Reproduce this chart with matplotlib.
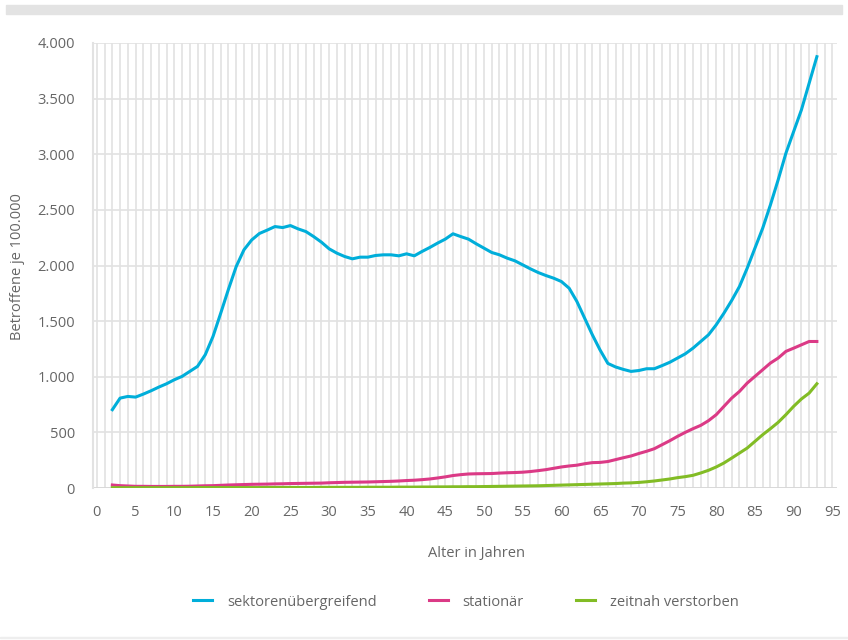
import matplotlib
matplotlib.use('Agg')
import matplotlib.pyplot as plt
from matplotlib.patches import Rectangle

# Alter 2..93
ages = list(range(2, 94))

sektor = [704, 808, 823, 817, 844, 874, 907, 937, 973, 1003, 1048, 1093, 1198, 1362, 1572, 1787,
          1991, 2141, 2230, 2288, 2318, 2350, 2341, 2359, 2329, 2305, 2260, 2210, 2150, 2111, 2081,
          2060, 2075, 2075, 2090, 2096, 2096, 2087, 2105, 2087, 2126, 2162, 2201, 2237, 2285, 2260,
          2237, 2195, 2156, 2117, 2096, 2066, 2042, 2006, 1970, 1937, 1910, 1886, 1856, 1796, 1677,
          1527, 1377, 1240, 1120, 1088, 1066, 1048, 1056, 1072, 1072, 1100, 1130, 1168, 1206, 1257,
          1317, 1377, 1467, 1572, 1686, 1811, 1976, 2156, 2335, 2545, 2770, 3009, 3204, 3398, 3638,
          3877]

stationaer = [27, 21, 18, 15, 15, 14, 14, 14, 15, 15, 16, 18, 20, 21, 24, 27, 29, 31, 33, 34, 35,
              37, 38, 40, 41, 42, 43, 44, 47, 49, 51, 52, 53, 54, 56, 58, 60, 63, 67, 70, 75, 81,
              90, 100, 112, 120, 126, 128, 129, 130, 134, 137, 139, 142, 148, 156, 165, 177, 189,
              198, 205, 218, 228, 230, 238, 255, 272, 288, 310, 330, 353, 389, 425, 464, 500, 533,
              563, 605, 659, 734, 808, 868, 943, 1003, 1063, 1123, 1168, 1228, 1257, 1287, 1317,
              1317]

verstorben = [3, 3, 3, 3, 3, 3, 3, 3, 3, 3, 3, 4, 4, 4, 4, 4, 4, 4, 4, 4, 5, 5, 5, 5, 5, 5, 5,
              6, 6, 6, 6, 6, 6, 7, 7, 7, 7, 8, 8, 8, 9, 9, 10, 10, 11, 11, 12, 12, 13, 14, 15, 16,
              17, 18, 19, 20, 22, 24, 26, 28, 30, 32, 34, 36, 38, 40, 44, 46, 50, 56, 63, 72, 81,
              93, 102, 114, 135, 159, 189, 225, 269, 314, 359, 419, 479, 533, 590, 659, 734, 800,
              853, 937]

series_names = ['sektorenübergreifend', 'stationär', 'zeitnah verstorben']
colors = ['#00AEDA', '#DB3A86', '#82BC25']

y_ticks = [0, 500, 1000, 1500, 2000, 2500, 3000, 3500, 4000]
y_labels = ['0', '500', '1.000', '1.500', '2.000', '2.500', '3.000', '3.500', '4.000']
x_ticks = list(range(0, 96, 5))

plt.rcParams['font.family'] = ['Open Sans', 'DejaVu Sans']
txt = '#666666'
grid = '#E2E2E2'

fig = plt.figure(figsize=(8.48, 6.4), dpi=100)
ax = fig.add_axes([93 / 848, 1 - 488 / 640, (837 - 93) / 848, 445 / 640])

# grid lines
for a in range(0, 96):
    ax.axvline(a, color=grid, lw=1.2, zorder=0)
for v in y_ticks:
    ax.axhline(v, color=grid, lw=1.2, zorder=0)
ax.axhline(0, color='#D6D6D6', lw=1.8, zorder=1)

for vals, name, c in zip([sektor, stationaer, verstorben], series_names, colors):
    ax.plot(ages, vals, color=c, lw=2.2, label=name, zorder=3, solid_joinstyle='round')

ax.set_xlim(-0.5, 95.6)
ax.set_ylim(0, 4000)
ax.set_xticks(x_ticks)
ax.set_yticks(y_ticks)
ax.set_yticklabels(y_labels)
ax.tick_params(length=0, labelsize=10.5, colors=txt)
ax.tick_params(axis='x', pad=12)
ax.tick_params(axis='y', pad=13)
for s in ['top', 'right', 'bottom']:
    ax.spines[s].set_visible(False)
ax.spines['left'].set_color(grid)
ax.spines['left'].set_linewidth(1.5)

fig.text(18 / 848, 1 - 267 / 640, 'Betroffene je 100.000', rotation=90, ha='center', va='center',
         fontsize=10.5, color=txt)
fig.text(476 / 848, 1 - 553 / 640, 'Alter in Jahren', ha='center', va='center', fontsize=10.5,
         color=txt)

handles, labels = ax.get_legend_handles_labels()
fig.legend(handles, labels, loc='center', bbox_to_anchor=(466 / 848, 1 - 602 / 640), ncol=3,
           frameon=False, fontsize=10.5, labelcolor=txt, handlelength=1.3, handletextpad=1.0,
           columnspacing=3.6)

# graue Balken oben und Linie unten
fig.patches.append(Rectangle((6 / 848, 1 - 14 / 640), 836 / 848, 9 / 640, transform=fig.transFigure,
                             color='#E3E3E3', zorder=0))
fig.patches.append(Rectangle((0, 1 - 638 / 640), 1, 1 / 640, transform=fig.transFigure,
                             color='#EEEEEE', zorder=0))

fig.savefig('out.png', dpi=100, facecolor='white')
